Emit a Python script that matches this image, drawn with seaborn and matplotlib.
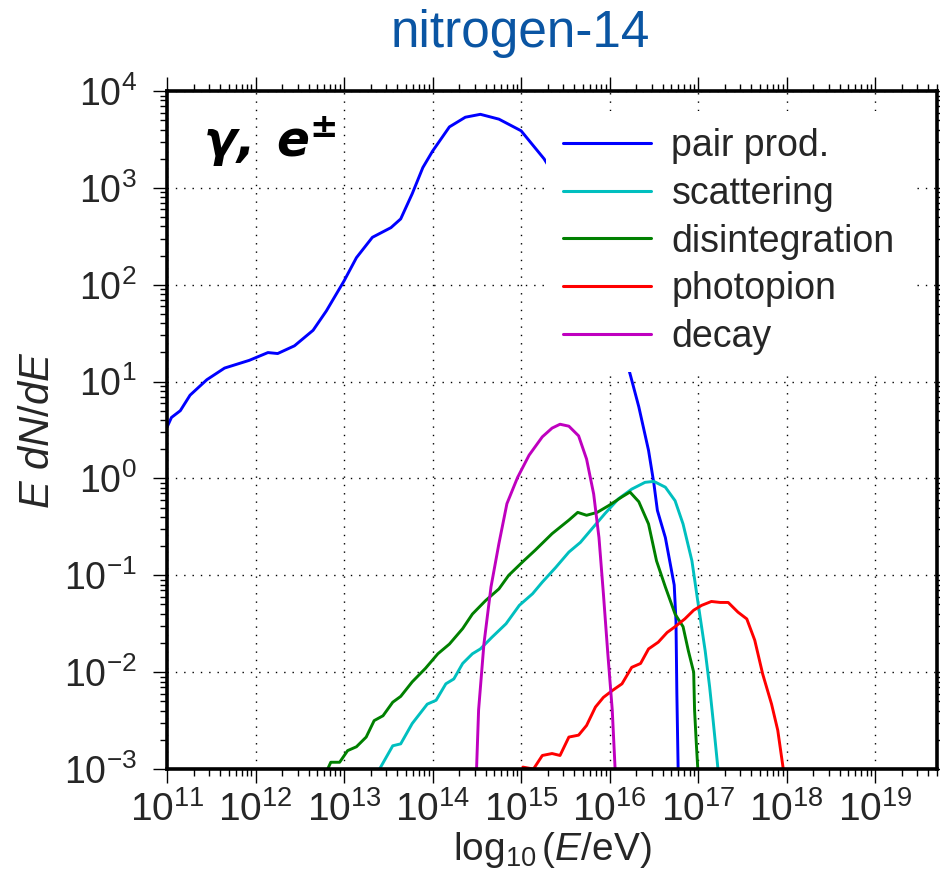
import numpy as np
import pandas as pd
import matplotlib
matplotlib.use("Agg")
import matplotlib.pyplot as plt
from matplotlib.ticker import LogLocator
import seaborn as sns

# ---- data (log10 E, log10 E dN/dE) ----
pair_x = [11.0, 11.05, 11.15, 11.26, 11.45, 11.65, 11.93, 12.14, 12.25, 12.44, 12.65, 12.80,
          13.0, 13.14, 13.32, 13.53, 13.64, 13.77, 13.89, 14.0, 14.19, 14.37, 14.54, 14.75,
          15.0, 15.26, 15.5, 15.75, 16.0, 16.24, 16.33, 16.44, 16.50, 16.54, 16.63, 16.73,
          16.75, 16.76, 16.78]
pair_y = [0.53, 0.63, 0.70, 0.86, 1.02, 1.14, 1.22, 1.30, 1.29, 1.37, 1.53, 1.73,
          2.04, 2.28, 2.49, 2.59, 2.68, 2.94, 3.21, 3.38, 3.63, 3.73, 3.76, 3.71,
          3.59, 3.30, 2.95, 2.45, 1.85, 1.05, 0.74, 0.29, -0.05, -0.33, -0.61, -1.10,
          -1.47, -2.22, -3.3]

scat_x = [13.37, 13.55, 13.64, 13.77, 13.94, 14.04, 14.15, 14.24, 14.34, 14.45, 14.54, 14.67,
          14.83, 14.98, 15.13, 15.24, 15.39, 15.54, 15.67, 15.80, 15.95, 16.10, 16.25, 16.40,
          16.50, 16.63, 16.74, 16.83, 16.93, 17.00, 17.08, 17.13, 17.17, 17.23]
scat_y = [-3.05, -2.76, -2.74, -2.53, -2.33, -2.29, -2.12, -2.07, -1.91, -1.81, -1.76, -1.64,
          -1.50, -1.31, -1.19, -1.07, -0.92, -0.76, -0.66, -0.52, -0.36, -0.21, -0.11, -0.04,
          -0.03, -0.09, -0.23, -0.47, -0.85, -1.29, -1.78, -2.15, -2.50, -3.05]

dis_x = [12.79, 12.85, 12.95, 13.04, 13.14, 13.25, 13.34, 13.44, 13.55, 13.64, 13.77, 13.92,
         14.06, 14.19, 14.34, 14.45, 14.60, 14.75, 14.86, 15.03, 15.16, 15.35, 15.54, 15.64,
         15.74, 15.86, 15.99, 16.14, 16.23, 16.33, 16.44, 16.53, 16.63, 16.74, 16.83, 16.89,
         16.95, 16.96, 16.98, 17.0]
dis_y = [-3.05, -2.93, -2.93, -2.81, -2.77, -2.67, -2.50, -2.45, -2.31, -2.25, -2.10, -1.96,
         -1.81, -1.71, -1.55, -1.40, -1.26, -1.14, -1.00, -0.85, -0.74, -0.57, -0.43, -0.35,
         -0.38, -0.35, -0.28, -0.19, -0.14, -0.24, -0.47, -0.85, -1.12, -1.40, -1.53, -1.78,
         -2.00, -2.39, -2.74, -3.05]

pion_x = [15.02, 15.14, 15.24, 15.35, 15.44, 15.54, 15.65, 15.74, 15.84, 15.93, 16.03, 16.14,
          16.25, 16.35, 16.44, 16.55, 16.65, 16.74, 16.85, 16.95, 17.04, 17.15, 17.25, 17.34,
          17.45, 17.55, 17.64, 17.73, 17.83, 17.90, 17.97]
pion_y = [-2.98, -3.0, -2.86, -2.84, -2.86, -2.67, -2.65, -2.55, -2.36, -2.26, -2.19, -2.12,
          -1.95, -1.91, -1.76, -1.69, -1.59, -1.53, -1.45, -1.36, -1.31, -1.27, -1.28, -1.28,
          -1.38, -1.45, -1.67, -2.02, -2.33, -2.60, -3.05]

decay_x = [14.495, 14.52, 14.58, 14.66, 14.75, 14.84, 14.96, 15.09, 15.24, 15.35, 15.44, 15.54,
           15.65, 15.74, 15.82, 15.88, 15.93, 15.98, 16.03, 16.065]
decay_y = [-3.05, -2.39, -1.71, -1.12, -0.67, -0.26, 0.01, 0.24, 0.43, 0.52, 0.56, 0.54,
           0.44, 0.20, -0.16, -0.61, -1.19, -1.81, -2.39, -3.05]

labels = ["pair prod.", "scattering", "disintegration", "photopion", "decay"]
colors = ["#0000ff", "#00bfbf", "#008000", "#ff0000", "#bf00bf"]
series_x = [pair_x, scat_x, dis_x, pion_x, decay_x]
series_y = [pair_y, scat_y, dis_y, pion_y, decay_y]

frames = []
for lab, xs, ys in zip(labels, series_x, series_y):
    frames.append(pd.DataFrame({"E": np.power(10.0, xs), "flux": np.power(10.0, ys),
                                "process": lab}))
df = pd.concat(frames, ignore_index=True)

# ---- style ----
sns.set_style("ticks")
plt.rcParams["font.family"] = ["Liberation Sans", "DejaVu Sans"]
plt.rcParams["mathtext.fontset"] = "custom"
plt.rcParams["mathtext.rm"] = "Liberation Sans"
plt.rcParams["mathtext.it"] = "Liberation Sans:italic"
plt.rcParams["mathtext.bf"] = "DejaVu Sans:italic:bold"
plt.rcParams["axes.unicode_minus"] = True

fig = plt.figure(figsize=(9.4, 8.74), dpi=100)
ax = fig.add_axes([0.1777, 0.1201, 0.8191, 0.7757])
ax.set_xscale("log")
ax.set_yscale("log")

sns.lineplot(data=df, x="E", y="flux", hue="process", hue_order=labels,
             palette=dict(zip(labels, colors)), sort=False, estimator=None,
             linewidth=2.1, legend=False, ax=ax)

ax.set_xlim(1e11, 5e19)
ax.set_ylim(1e-3, 1e4)
ax.xaxis.set_major_locator(LogLocator(base=10, numticks=30))
ax.xaxis.set_minor_locator(LogLocator(base=10, subs=np.arange(2, 10), numticks=30))
ax.yaxis.set_major_locator(LogLocator(base=10, numticks=30))
ax.yaxis.set_minor_locator(LogLocator(base=10, subs=np.arange(2, 10), numticks=30))

ax.grid(True, which="major", linestyle=(0, (1, 5)), color="black", linewidth=1.0)
ax.grid(False, which="minor")
for s in ax.spines.values():
    s.set_linewidth(2.6)
    s.set_color("black")

ax.tick_params(axis="both", which="both", direction="out", top=True, right=True,
               color="black")
ax.tick_params(axis="both", which="major", length=10, width=1.0)
ax.tick_params(axis="both", which="minor", length=5, width=1.0)
ax.tick_params(axis="y", which="major", labelsize=27, pad=12)
ax.tick_params(axis="x", which="major", labelsize=28, pad=6)

ax.set_xlabel(r"$\log_{10}(E/\mathrm{eV})$", fontsize=28, labelpad=1)
ax.set_ylabel(r"$E\ dN/dE$", fontsize=30, labelpad=4)

# legend
handles = ax.get_lines()[:len(labels)]
leg = ax.legend(handles, labels, loc="upper left", bbox_to_anchor=(0.492, 0.970),
                borderaxespad=0, fontsize=27, frameon=True, framealpha=1.0,
                edgecolor="none", facecolor="white", fancybox=False,
                handlelength=2.35, handletextpad=0.55, borderpad=0.45, labelspacing=0.31)
for lh in leg.get_lines():
    lh.set_linewidth(2.2)

ax.text(0.047, 0.903, r"$\mathbf{\gamma,\ e^{\pm}}$", transform=ax.transAxes,
        fontsize=35, color="black")

fig.text(0.554, 0.946, "nitrogen-14", ha="center", va="baseline", fontsize=37,
         color="#0a55a3", family="Liberation Sans")

fig.savefig("out.png", dpi=100)
